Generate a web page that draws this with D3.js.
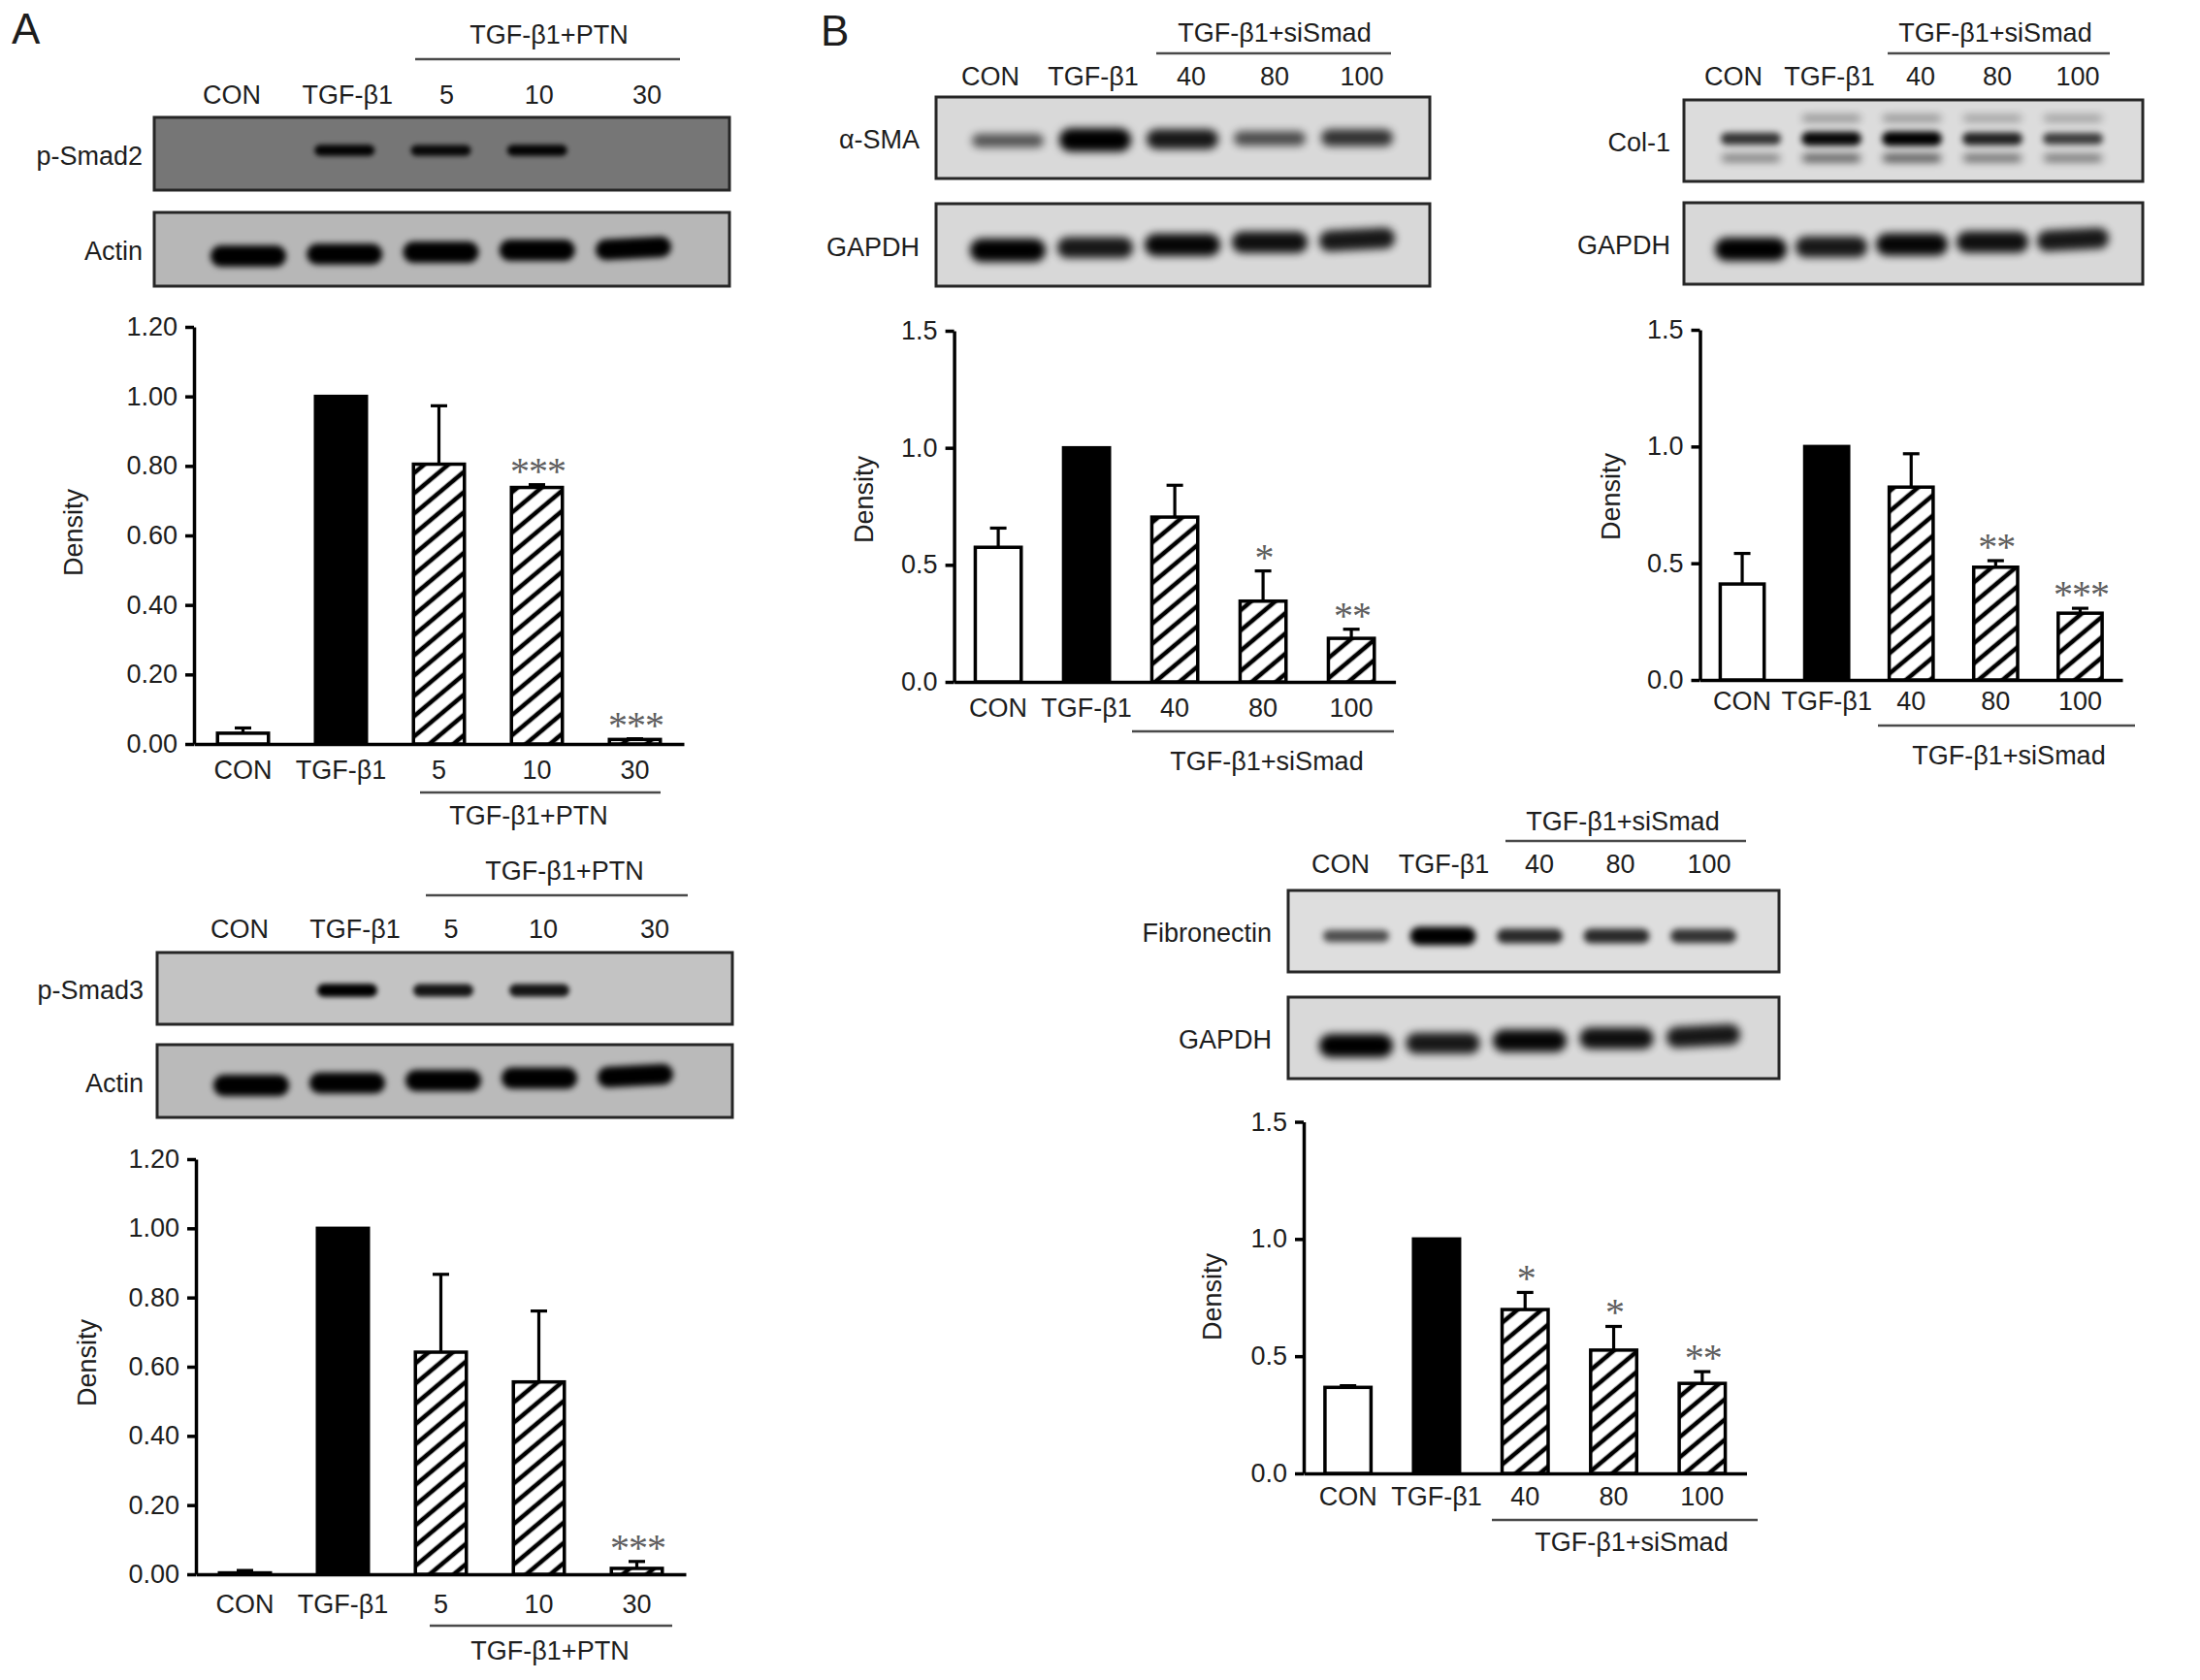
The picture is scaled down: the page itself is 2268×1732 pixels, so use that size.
<!DOCTYPE html>
<html>
<head>
<meta charset="utf-8">
<script src="https://cdn.jsdelivr.net/npm/d3@7"></script>
<style>
  html, body { margin: 0; padding: 0; background: #ffffff; }
  svg { display: block; }
</style>
</head>
<body>
<svg id="fig" width="2268" height="1732"></svg>
<script>
// ---------------- DATA ----------------
const ptnLanes = ["CON", "TGF-β1", "5", "10", "30"];
const siLanes = ["CON", "TGF-β1", "40", "80", "100"];
const ptnGroup = "TGF-β1+PTN";
const siGroup = "TGF-β1+siSmad";
const ptnTicks = [0, 0.2, 0.4, 0.6, 0.8, 1.0, 1.2];
const siTicks = [0, 0.5, 1.0, 1.5];
const yTitle = "Density";

// p-Smad2 densitometry (mean, SD upper whisker, significance)
const smad2Mean = [0.031, 1.0, 0.805, 0.738, 0.013];
const smad2Err  = [0.015, 0.0, 0.168, 0.008, 0.002];
const smad2Sig  = ["", "", "", "***", "***"];
// p-Smad3
const smad3Mean = [0.004, 1.0, 0.642, 0.556, 0.017];
const smad3Err  = [0.007, 0.0, 0.225, 0.205, 0.020];
const smad3Sig  = ["", "", "", "", "***"];
// alpha-SMA
const smaMean = [0.575, 1.0, 0.704, 0.345, 0.186];
const smaErr  = [0.082, 0.0, 0.136, 0.129, 0.039];
const smaSig  = ["", "", "", "*", "**"];
// Col-1
const col1Mean = [0.411, 1.0, 0.826, 0.483, 0.286];
const col1Err  = [0.131, 0.0, 0.143, 0.028, 0.021];
const col1Sig  = ["", "", "", "**", "***"];
// Fibronectin
const fnMean = [0.367, 1.0, 0.699, 0.526, 0.384];
const fnErr  = [0.007, 0.0, 0.073, 0.101, 0.050];
const fnSig  = ["", "", "*", "*", "**"];

// Western blot band intensities (0 = no band, 1 = saturated), per lane
const pSmad2Bands   = [0, 0.9, 0.85, 0.9, 0];
const actinA1Bands  = [1, 0.95, 1, 1, 0.95];
const pSmad3Bands   = [0, 0.95, 0.8, 0.8, 0];
const actinA2Bands  = [1, 0.95, 1, 1, 0.95];
const smaBands      = [0.45, 1, 0.8, 0.5, 0.65];
const gapdhSmaBands = [1, 0.8, 0.9, 0.85, 0.8];
const col1MainBands  = [0.65, 0.9, 1, 0.75, 0.6];
const col1LowerBands = [0.3, 0.45, 0.5, 0.38, 0.32];
const col1UpperBands = [0, 0.18, 0.18, 0.1, 0.1];
const gapdhColBands = [1, 0.8, 0.9, 0.85, 0.8];
const fnBands       = [0.5, 1, 0.7, 0.7, 0.65];
const gapdhFnBands  = [1, 0.8, 0.9, 0.85, 0.8];

// ---------------- SETUP ----------------
const FONT = "'Liberation Sans', Arial, Helvetica, sans-serif";
const TXT = "#1d1d1d";
const FS = 27;
const svg = d3.select("#fig");
svg.append("rect").attr("width", 2268).attr("height", 1732).attr("fill", "#ffffff");
const defs = svg.append("defs");

const hatch = defs.append("pattern").attr("id", "hatch")
  .attr("patternUnits", "userSpaceOnUse").attr("width", 16).attr("height", 16)
  .attr("patternTransform", "rotate(-40)");
hatch.append("rect").attr("width", 16).attr("height", 16).attr("fill", "#ffffff");
hatch.append("line").attr("x1", -2).attr("x2", 18).attr("y1", 8).attr("y2", 8)
  .attr("stroke", "#000").attr("stroke-width", 4.6);

[["blurS", 2.4], ["blurM", 3.2], ["blurL", 4.0]].forEach(([id, s]) => {
  defs.append("filter").attr("id", id).attr("x", "-30%").attr("y", "-120%")
    .attr("width", "160%").attr("height", "340%")
    .append("feGaussianBlur").attr("stdDeviation", s);
});

function label(g, x, y, str, opt = {}) {
  return g.append("text")
    .attr("x", x).attr("y", y).attr("dy", "0.35em")
    .attr("text-anchor", opt.anchor || "middle")
    .attr("font-family", FONT).attr("font-size", opt.size || FS)
    .attr("fill", opt.fill || TXT)
    .attr("transform", opt.rotate ? `rotate(${opt.rotate},${x},${y})` : null)
    .text(str);
}

// Panel letters
label(svg, 12, 30, "A", { anchor: "start", size: 44 });
label(svg, 846, 32, "B", { anchor: "start", size: 44 });

// ---------------- BAR CHARTS ----------------
function barChart(cfg) {
  const g = svg.append("g");
  const x = d3.scaleBand().domain(cfg.cats)
    .range([cfg.left, cfg.left + 5 * cfg.step]).paddingInner(0.48).paddingOuter(0.24);
  const y = d3.scaleLinear().domain([0, cfg.max]).range([cfg.y0, cfg.yTop]);

  const ya = g.append("g").attr("transform", `translate(${cfg.left},0)`)
    .call(d3.axisLeft(y).tickValues(cfg.ticks).tickFormat(d3.format(cfg.fmt))
      .tickSize(9).tickSizeOuter(0).tickPadding(8));
  ya.select(".domain").attr("stroke", "#000").attr("stroke-width", 3.5);
  ya.selectAll(".tick line").attr("stroke", "#000").attr("stroke-width", 3.5);
  ya.selectAll(".tick text").attr("font-family", FONT).attr("font-size", FS).attr("fill", TXT);

  const xa = g.append("g").attr("transform", `translate(0,${cfg.y0})`)
    .call(d3.axisBottom(x).tickSize(0).tickSizeOuter(0).tickPadding(cfg.xLabY - cfg.y0 - 9.7));
  xa.select(".domain").attr("stroke", "#000").attr("stroke-width", 3.5);
  xa.selectAll(".tick text").attr("font-family", FONT).attr("font-size", FS).attr("fill", TXT);

  const rows = cfg.cats.map((c, i) => ({ c, i, m: cfg.mean[i], e: cfg.err[i], s: cfg.sig[i] }));
  const bw = x.bandwidth();

  // error whiskers (upper only)
  const eb = g.append("g").attr("stroke", "#000").attr("stroke-width", 3.2);
  rows.filter(d => d.e > 0).forEach(d => {
    const cx = x(d.c) + bw / 2;
    eb.append("line").attr("x1", cx).attr("x2", cx).attr("y1", y(d.m)).attr("y2", y(d.m + d.e));
    eb.append("line").attr("x1", cx - 8.5).attr("x2", cx + 8.5).attr("y1", y(d.m + d.e)).attr("y2", y(d.m + d.e));
  });

  g.append("g").selectAll("rect").data(rows).join("rect")
    .attr("x", d => x(d.c)).attr("width", bw)
    .attr("y", d => y(d.m)).attr("height", d => Math.max(0, cfg.y0 - y(d.m)))
    .attr("fill", d => d.i === 0 ? "#ffffff" : d.i === 1 ? "#000000" : "url(#hatch)")
    .attr("stroke", "#000").attr("stroke-width", 3.5);

  // significance stars
  g.append("g").selectAll("text").data(rows.filter(d => d.s)).join("text")
    .attr("x", d => x(d.c) + bw / 2 + 1)
    .attr("y", d => y(d.m + d.e) - 21 + 20)
    .attr("text-anchor", "middle").attr("font-family", "'Liberation Serif', 'Times New Roman', serif")
    .attr("font-size", 40).attr("letter-spacing", -1).attr("fill", "#5e5e5e").text(d => d.s);

  // group bracket and title
  g.append("line").attr("x1", cfg.brX[0]).attr("x2", cfg.brX[1])
    .attr("y1", cfg.brY).attr("y2", cfg.brY).attr("stroke", "#4a4a4a").attr("stroke-width", 2.5);
  label(g, cfg.grpX, cfg.grpY, cfg.group);
  label(g, cfg.densX, cfg.densY, yTitle, { rotate: -90 });
}

// ---------------- BLOTS ----------------
function blotPanel(cfg) {
  const g = svg.append("g");
  label(g, cfg.headX, cfg.headY, cfg.group);
  g.append("line").attr("x1", cfg.lineX[0]).attr("x2", cfg.lineX[1])
    .attr("y1", cfg.lineY).attr("y2", cfg.lineY).attr("stroke", "#4a4a4a").attr("stroke-width", 2.5);
  const lane = d3.scalePoint().domain(cfg.lanes).range(cfg.laneRange);
  cfg.lanes.forEach((l, i) => label(g, lane(l) + cfg.nudge[i], cfg.labY, l));

  cfg.rows.forEach((row, ri) => {
    const id = `clip-${cfg.id}-${ri}`;
    defs.append("clipPath").attr("id", id).append("rect")
      .attr("x", cfg.boxX[0]).attr("y", row.y0)
      .attr("width", cfg.boxX[1] - cfg.boxX[0]).attr("height", row.y1 - row.y0);
    g.append("rect").attr("x", cfg.boxX[0]).attr("y", row.y0)
      .attr("width", cfg.boxX[1] - cfg.boxX[0]).attr("height", row.y1 - row.y0)
      .attr("fill", row.bg);
    const bg = g.append("g").attr("clip-path", `url(#${id})`);
    row.layers.forEach(layer => {
      cfg.lanes.forEach((l, i) => {
        const v = layer.vals[i];
        if (!v) return;
        const cx = lane(l);
        const cy = row.bandY + layer.dy + row.tilt * i / (cfg.lanes.length - 1);
        const h = layer.hMin + (layer.hMax - layer.hMin) * v;
        bg.append("rect")
          .attr("x", cx - layer.w / 2).attr("y", cy - h / 2)
          .attr("width", layer.w).attr("height", h).attr("rx", h / 2)
          .attr("fill", "#050505").attr("opacity", Math.min(1, 0.25 + 0.8 * v))
          .attr("filter", `url(#${layer.blur})`)
          .attr("transform", i === cfg.lanes.length - 1 && row.slant ? `rotate(${row.slant},${cx},${cy})` : null);
      });
    });
    g.append("rect").attr("x", cfg.boxX[0]).attr("y", row.y0)
      .attr("width", cfg.boxX[1] - cfg.boxX[0]).attr("height", row.y1 - row.y0)
      .attr("fill", "none").attr("stroke", "#262626").attr("stroke-width", 3);
    label(g, cfg.rowLabX, (row.y0 + row.y1) / 2 + 2, row.label, { anchor: "end" });
  });
}

const ptnNudge = [-17, 3, 6, 2, 14];
const siNudge = [-18, -2, 9, 5, 5];

blotPanel({
  id: "a1", lanes: ptnLanes, group: ptnGroup, headX: 566, headY: 36, lineX: [428, 701], lineY: 61,
  labY: 98, laneRange: [256, 653], nudge: ptnNudge, boxX: [159, 752], rowLabX: 147,
  rows: [
    { label: "p-Smad2", y0: 121, y1: 196, bg: "#767676", bandY: 155, tilt: 0,
      layers: [{ vals: pSmad2Bands, dy: 0, w: 62, hMin: 7, hMax: 12, blur: "blurS" }] },
    { label: "Actin", y0: 219, y1: 295, bg: "#b7b7b7", bandY: 264, tilt: -8, slant: -3,
      layers: [{ vals: actinA1Bands, dy: 0, w: 78, hMin: 12, hMax: 22, blur: "blurM" }] }
  ]
});

blotPanel({
  id: "a2", lanes: ptnLanes, group: ptnGroup, headX: 582, headY: 898, lineX: [439, 709], lineY: 923,
  labY: 958, laneRange: [259, 655], nudge: [-12, 8, 8, 4, 20], boxX: [162, 755], rowLabX: 148,
  rows: [
    { label: "p-Smad3", y0: 982, y1: 1056, bg: "#c3c3c3", bandY: 1021, tilt: 0,
      layers: [{ vals: pSmad3Bands, dy: 0, w: 62, hMin: 8, hMax: 14, blur: "blurS" }] },
    { label: "Actin", y0: 1077, y1: 1152, bg: "#bababa", bandY: 1119, tilt: -10, slant: -3,
      layers: [{ vals: actinA2Bands, dy: 0, w: 78, hMin: 12, hMax: 22, blur: "blurM" }] }
  ]
});

blotPanel({
  id: "b1", lanes: siLanes, group: siGroup, headX: 1314, headY: 34, lineX: [1192, 1434], lineY: 55,
  labY: 79, laneRange: [1039, 1399], nudge: siNudge, boxX: [965, 1474], rowLabX: 948,
  rows: [
    { label: "α-SMA", y0: 100, y1: 184, bg: "#d9d9d9", bandY: 145, tilt: -3,
      layers: [{ vals: smaBands, dy: 0, w: 74, hMin: 6, hMax: 24, blur: "blurL" }] },
    { label: "GAPDH", y0: 210, y1: 295, bg: "#d8d8d8", bandY: 258, tilt: -11, slant: -3,
      layers: [{ vals: gapdhSmaBands, dy: 0, w: 78, hMin: 12, hMax: 24, blur: "blurL" }] }
  ]
});

blotPanel({
  id: "b2", lanes: siLanes, group: siGroup, headX: 2057, headY: 34, lineX: [1946, 2175], lineY: 55,
  labY: 79, laneRange: [1805, 2137], nudge: siNudge, boxX: [1736, 2209], rowLabX: 1722,
  rows: [
    { label: "Col-1", y0: 103, y1: 187, bg: "#dcdcdc", bandY: 143, tilt: 0,
      layers: [
        { vals: col1UpperBands, dy: -21, w: 60, hMin: 6, hMax: 9, blur: "blurL" },
        { vals: col1MainBands, dy: 0, w: 62, hMin: 8, hMax: 15, blur: "blurM" },
        { vals: col1LowerBands, dy: 20, w: 60, hMin: 6, hMax: 10, blur: "blurL" }
      ] },
    { label: "GAPDH", y0: 209, y1: 293, bg: "#d8d8d8", bandY: 257, tilt: -10, slant: -3,
      layers: [{ vals: gapdhColBands, dy: 0, w: 74, hMin: 12, hMax: 24, blur: "blurL" }] }
  ]
});

blotPanel({
  id: "b3", lanes: siLanes, group: siGroup, headX: 1673, headY: 847, lineX: [1552, 1800], lineY: 867,
  labY: 891, laneRange: [1398, 1756], nudge: [-16, 1, 10, 4, 6], boxX: [1328, 1834], rowLabX: 1311,
  rows: [
    { label: "Fibronectin", y0: 918, y1: 1002, bg: "#dedede", bandY: 965, tilt: 0,
      layers: [{ vals: fnBands, dy: 0, w: 68, hMin: 6, hMax: 19, blur: "blurM" }] },
    { label: "GAPDH", y0: 1028, y1: 1112, bg: "#d9d9d9", bandY: 1078, tilt: -10, slant: -3,
      layers: [{ vals: gapdhFnBands, dy: 0, w: 76, hMin: 12, hMax: 24, blur: "blurL" }] }
  ]
});

// ---------------- CHARTS ----------------
barChart({ cats: ptnLanes, mean: smad2Mean, err: smad2Err, sig: smad2Sig, group: ptnGroup,
  left: 200, step: 101, y0: 767, yTop: 337, max: 1.2, ticks: ptnTicks, fmt: ".2f",
  xLabY: 794, brY: 817, brX: [433, 681], grpX: 545, grpY: 841, densX: 76, densY: 549 });

barChart({ cats: ptnLanes, mean: smad3Mean, err: smad3Err, sig: smad3Sig, group: ptnGroup,
  left: 202, step: 101, y0: 1623, yTop: 1195, max: 1.2, ticks: ptnTicks, fmt: ".2f",
  xLabY: 1654, brY: 1676, brX: [443, 693], grpX: 567, grpY: 1702, densX: 90, densY: 1405 });

barChart({ cats: siLanes, mean: smaMean, err: smaErr, sig: smaSig, group: siGroup,
  left: 983.6, step: 91, y0: 703, yTop: 341, max: 1.5, ticks: siTicks, fmt: ".1f",
  xLabY: 730, brY: 754, brX: [1167, 1437], grpX: 1306, grpY: 785, densX: 891, densY: 515 });

barChart({ cats: siLanes, mean: col1Mean, err: col1Err, sig: col1Sig, group: siGroup,
  left: 1752.5, step: 87.1, y0: 701, yTop: 340, max: 1.5, ticks: siTicks, fmt: ".1f",
  xLabY: 723, brY: 748, brX: [1936, 2201], grpX: 2071, grpY: 779, densX: 1661, densY: 512 });

barChart({ cats: siLanes, mean: fnMean, err: fnErr, sig: fnSig, group: siGroup,
  left: 1344, step: 91.3, y0: 1519, yTop: 1156.5, max: 1.5, ticks: siTicks, fmt: ".1f",
  xLabY: 1543, brY: 1567, brX: [1538, 1812], grpX: 1682, grpY: 1590, densX: 1250, densY: 1337 });
</script>
</body>
</html>
